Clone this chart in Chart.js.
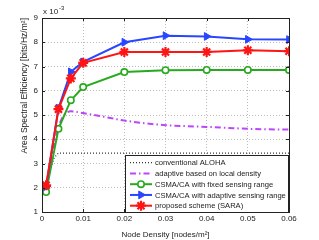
<!DOCTYPE html>
<html>
<head>
<meta charset="utf-8">
<script src="https://cdn.jsdelivr.net/npm/chart.js@4.4.1/dist/chart.umd.min.js"></script>
<style>
  html, body { margin: 0; padding: 0; background: #fff; }
  #wrap { width: 319px; height: 240px; }
</style>
</head>
<body>
<div id="wrap"><canvas id="aseChart" width="319" height="240"></canvas></div>
<script>
// node density [nodes/m^2]
const densities = [0.001, 0.004, 0.007, 0.01, 0.02, 0.03, 0.04, 0.05, 0.06];
const alohaDensities = [0.001, 0.002, 0.003, 0.004, 0.01, 0.02, 0.03, 0.04, 0.05, 0.06];
const adaptiveDensities = [0.001, 0.004, 0.007, 0.01, 0.015, 0.02, 0.025, 0.03, 0.035, 0.04, 0.045, 0.05, 0.055, 0.06];

// area spectral efficiency, x 10^-3 bits/Hz/m^2
const alohaValues = [2.0, 2.75, 3.25, 3.43, 3.43, 3.43, 3.43, 3.43, 3.43, 3.43];
const adaptiveValues = [1.95, 4.5, 5.15, 5.08, 4.93, 4.77, 4.66, 4.58, 4.54, 4.51, 4.47, 4.43, 4.41, 4.40];
const fixedRangeValues = [1.82, 4.43, 5.61, 6.15, 6.77, 6.85, 6.86, 6.86, 6.86];
const adaptiveRangeValues = [2.05, 5.28, 6.78, 7.19, 8.0, 8.27, 8.24, 8.12, 8.11];
const saraValues = [2.1, 5.24, 6.51, 7.15, 7.6, 7.6, 7.6, 7.67, 7.63];

const seriesLabels = [
    'conventional ALOHA',
    'adaptive based on local density',
    'CSMA/CA with fixed sensing range',
    'CSMA/CA with adaptive sensing range',
    'proposed scheme (SARA)'
];
const xTickLabels = ['0', '0.01', '0.02', '0.03', '0.04', '0.05', '0.06'];
const yTickLabels = ['1', '2', '3', '4', '5', '6', '7', '8', '9'];

const FONT = 'Liberation Sans, Arial, sans-serif';
const toPoints = (xs, ys) => xs.map((x, i) => ({ x: x, y: ys[i] }));

const datasets = [
    {
        label: seriesLabels[0],
        data: toPoints(alohaDensities, alohaValues),
        borderColor: '#333',
        borderWidth: 1.3,
        borderDash: [1, 2],
        pointRadius: 0,
        order: 4
    },
    {
        label: seriesLabels[1],
        data: toPoints(adaptiveDensities, adaptiveValues),
        borderColor: 'rgb(190,70,250)',
        borderWidth: 2,
        borderDash: [6, 3, 1.5, 3],
        pointRadius: 0,
        cubicInterpolationMode: 'monotone',
        order: 3
    },
    {
        label: seriesLabels[2],
        data: toPoints(densities, fixedRangeValues),
        borderColor: 'rgb(40,170,30)',
        backgroundColor: '#fff',
        borderWidth: 2,
        pointStyle: 'circle',
        pointRadius: 3.2,
        pointBorderWidth: 1.6,
        order: 2
    },
    {
        label: seriesLabels[3],
        data: toPoints(densities, adaptiveRangeValues),
        borderColor: 'rgb(40,70,255)',
        backgroundColor: 'rgb(40,70,255)',
        borderWidth: 2,
        pointStyle: 'triangle',
        pointRotation: 90,
        pointRadius: 4.5,
        pointBorderWidth: 1,
        order: 1
    },
    {
        label: seriesLabels[4],
        data: toPoints(densities, saraValues),
        borderColor: 'rgb(255,20,20)',
        backgroundColor: 'rgb(255,20,20)',
        borderWidth: 2,
        pointStyle: 'star',
        pointRadius: 5,
        pointBorderWidth: 2.2,
        order: 0
    }
];

// frame, exponent label and inside legend like the original figure
const figureDecor = {
    id: 'figureDecor',
    afterDraw(chart) {
        const ctx = chart.ctx;
        const a = chart.chartArea;
        ctx.save();
        ctx.strokeStyle = '#222';
        ctx.lineWidth = 1;
        ctx.setLineDash([]);
        ctx.strokeRect(Math.round(a.left) + 0.5, Math.round(a.top) + 0.5,
            Math.round(a.right - a.left), Math.round(a.bottom - a.top));

        // small inward ticks
        const xs = chart.scales.x, ys = chart.scales.y;
        ctx.beginPath();
        xTickLabels.forEach(t => {
            const px = Math.round(xs.getPixelForValue(parseFloat(t))) + 0.5;
            ctx.moveTo(px, a.bottom); ctx.lineTo(px, a.bottom - 3);
            ctx.moveTo(px, a.top); ctx.lineTo(px, a.top + 3);
        });
        yTickLabels.forEach(t => {
            const py = Math.round(ys.getPixelForValue(parseFloat(t))) + 0.5;
            ctx.moveTo(a.left, py); ctx.lineTo(a.left + 3, py);
            ctx.moveTo(a.right, py); ctx.lineTo(a.right - 3, py);
        });
        ctx.stroke();

        // exponent
        ctx.fillStyle = '#222';
        ctx.font = '8px ' + FONT;
        ctx.textBaseline = 'alphabetic';
        ctx.textAlign = 'left';
        ctx.fillText('x 10', a.left + 1, a.top - 4);
        ctx.font = '6px ' + FONT;
        ctx.fillText('-3', a.left + 17, a.top - 8);

        // legend box
        const bx = 125.5, by = 155.5, bw = 163, bh = 57;
        ctx.fillStyle = '#fff';
        ctx.fillRect(bx, by, bw, bh);
        ctx.strokeStyle = '#222';
        ctx.strokeRect(bx, by, bw, bh);
        ctx.font = '7.6px ' + FONT;
        ctx.textBaseline = 'middle';
        const legendOrder = [0, 1, 2, 3, 4];
        legendOrder.forEach((di, row) => {
            const ds = chart.data.datasets[di];
            const y = 162.7 + row * 10.75;
            ctx.save();
            ctx.strokeStyle = ds.borderColor;
            ctx.lineWidth = ds.borderWidth;
            ctx.setLineDash(ds.borderDash || []);
            ctx.beginPath();
            ctx.moveTo(130, y);
            ctx.lineTo(152, y);
            ctx.stroke();
            ctx.setLineDash([]);
            if (ds.pointRadius > 0) {
                ctx.fillStyle = ds.backgroundColor;
                ctx.lineWidth = ds.pointBorderWidth;
                Chart.helpers.drawPoint(ctx, {
                    pointStyle: ds.pointStyle,
                    rotation: ds.pointRotation || 0,
                    radius: ds.pointRadius,
                    borderWidth: ds.pointBorderWidth
                }, 141, y);
            }
            ctx.restore();
            ctx.fillStyle = '#222';
            ctx.fillText(ds.label, 155, y + 0.5);
        });
        ctx.restore();
    }
};

new Chart(document.getElementById('aseChart').getContext('2d'), {
    type: 'line',
    data: { datasets: datasets },
    options: {
        responsive: false,
        animation: false,
        layout: { padding: { left: 20, right: 30, top: 18, bottom: 0 } },
        plugins: {
            legend: { display: false },
            tooltip: { enabled: false }
        },
        scales: {
            x: {
                type: 'linear',
                min: 0,
                max: 0.06,
                afterFit: (scale) => { scale.height = 28; },
                afterBuildTicks: (scale) => {
                    scale.ticks = xTickLabels.map(t => ({ value: parseFloat(t) }));
                },
                ticks: {
                    color: '#222',
                    font: { family: FONT, size: 8 },
                    padding: 2,
                    maxRotation: 0,
                    callback: (v, i) => xTickLabels[i]
                },
                grid: { color: '#bbb', drawTicks: false },
                border: { display: false, dash: [1, 2] },
                title: {
                    display: true,
                    text: 'Node Density [nodes/m²]',
                    color: '#222',
                    font: { family: FONT, size: 8 },
                    padding: { top: 1, bottom: 0 }
                }
            },
            y: {
                type: 'linear',
                min: 1,
                max: 9,
                afterFit: (scale) => { scale.width = 22; },
                afterBuildTicks: (scale) => {
                    scale.ticks = yTickLabels.map(t => ({ value: parseFloat(t) }));
                },
                ticks: {
                    color: '#222',
                    font: { family: FONT, size: 8 },
                    padding: 4,
                    callback: (v, i) => yTickLabels[i]
                },
                grid: { color: '#bbb', drawTicks: false },
                border: { display: false, dash: [1, 2] },
                title: {
                    display: true,
                    text: 'Area Spectral Efficiency [bits/Hz/m²]',
                    align: 'end',
                    color: '#222',
                    font: { family: FONT, size: 8.5 },
                    padding: { top: 0, bottom: 0 }
                }
            }
        }
    },
    plugins: [figureDecor]
});
</script>
</body>
</html>
